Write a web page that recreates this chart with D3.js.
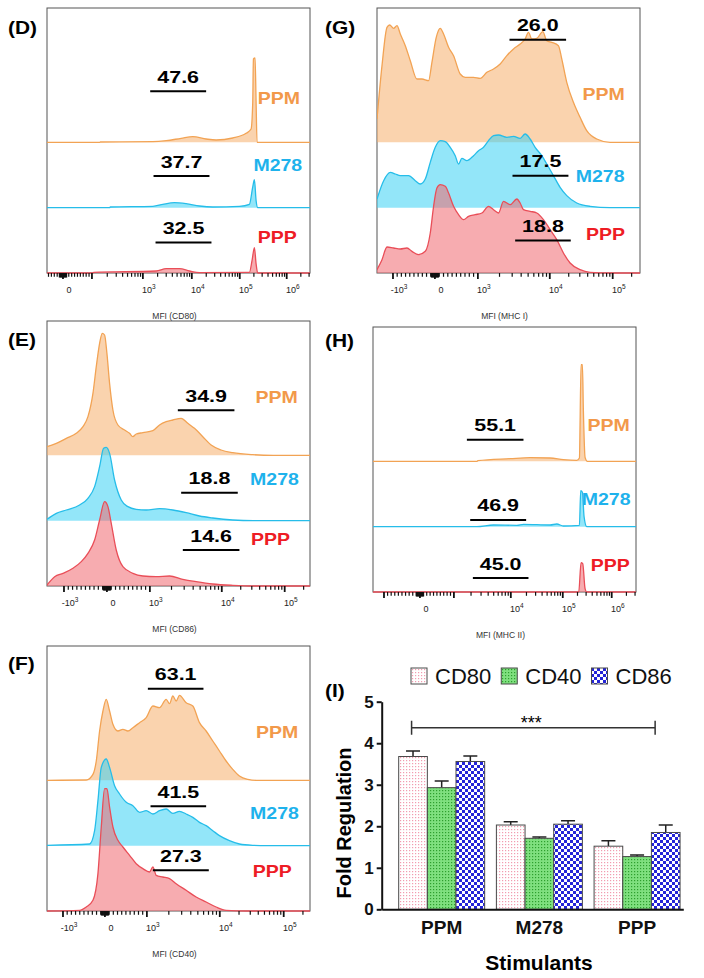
<!DOCTYPE html>
<html>
<head>
<meta charset="utf-8">
<script src="https://cdn.jsdelivr.net/npm/d3@7"></script>
<style>
  body { margin: 0; background: #fff; }
  svg { display: block; font-family: "Liberation Sans", Arial, sans-serif; }
</style>
</head>
<body>
<div class="canvas"></div>
<script>
// ---- histogram data: [display channel (0-790), event count] per sample ----
const samples = ['PPM', 'M278', 'PPP'];

const cd80PPM = [[0,0],[158,0],[160,1],[318,2],[358,5],[403,12],[438,17],[478,10],[508,7],[558,13],[598,27],[613,40],[618,120],[620,250],[625,253],[628,125],[631,0],[790,0]];
const cd80M278 = [[0,0],[188,0],[190,2],[318,4],[348,10],[383,15],[418,12],[458,5],[498,2],[578,4],[608,10],[618,62],[623,84],[628,22],[633,0],[790,0]];
const cd80PPP = [[0,0],[138,0],[140,2],[328,6],[358,13],[398,13],[428,6],[458,1],[608,2],[616,38],[623,76],[628,28],[633,0],[790,0]];

const mhc1PPM = [[0,70],[15,230],[30,345],[38,352],[50,342],[60,350],[70,325],[85,290],[100,245],[120,190],[135,190],[155,185],[165,240],[178,315],[190,342],[200,325],[215,285],[230,260],[250,205],[265,195],[290,195],[310,192],[330,210],[350,220],[370,235],[390,260],[410,280],[430,295],[445,310],[455,330],[465,310],[480,312],[498,332],[510,305],[525,300],[545,290],[555,250],[570,180],[590,120],[610,75],[630,35],[660,10],[700,0],[790,0]];
const mhc1M278 = [[0,26],[20,81],[40,106],[55,101],[70,96],[95,96],[115,81],[130,71],[145,86],[160,136],[175,181],[190,201],[205,198],[220,181],[235,156],[245,131],[255,148],[270,141],[290,156],[305,171],[320,181],[335,201],[350,216],[365,218],[390,211],[410,214],[430,208],[445,221],[460,206],[475,181],[495,156],[510,131],[530,96],[550,61],[570,36],[600,14],[640,4],[700,0],[790,0]];
const mhc1PPP = [[0,10],[15,40],[30,78],[50,75],[70,72],[90,75],[105,65],[125,55],[145,65],[160,120],[170,200],[180,255],[190,265],[205,260],[215,240],[230,200],[245,175],[260,160],[275,170],[295,175],[315,180],[335,200],[350,190],[365,180],[380,215],[400,205],[420,222],[430,210],[440,190],[460,185],[480,180],[500,160],[520,130],[540,100],[560,60],[580,30],[610,10],[640,2],[700,0],[790,0]];

const cd86PPM = [[0,26],[28,36],[58,51],[88,66],[108,86],[123,116],[138,186],[148,266],[158,336],[166,366],[173,361],[180,306],[188,216],[198,136],[213,91],[233,76],[248,66],[258,56],[268,64],[288,68],[318,74],[338,91],[358,101],[378,106],[403,111],[423,96],[443,81],[468,56],[493,31],[523,16],[558,8],[618,2],[680,0],[790,0]];
const cd86M278 = [[0,4],[28,22],[58,32],[98,47],[123,67],[143,102],[158,162],[170,217],[178,220],[188,202],[203,122],[223,62],[243,42],[268,34],[298,32],[338,36],[378,32],[418,24],[458,14],[498,8],[558,2],[620,0],[790,0]];
const cd86PPP = [[0,3],[23,28],[48,38],[78,53],[103,73],[123,98],[143,138],[158,198],[173,253],[183,238],[193,188],[208,108],[228,58],[258,38],[288,30],[328,28],[368,30],[408,20],[448,13],[498,6],[558,2],[620,0],[790,0]];

const mhc2PPM = [[0,0],[312,0],[315,2],[412,8],[472,11],[532,10],[572,5],[612,3],[620,10],[625,290],[629,290],[632,150],[637,12],[644,0],[790,0]];
const mhc2M278 = [[0,0],[312,0],[362,5],[432,4],[452,7],[532,5],[552,8],[572,2],[620,4],[624,108],[629,103],[634,30],[642,0],[790,0]];
const mhc2PPP = [[0,0],[618,0],[625,88],[630,85],[637,10],[642,0],[790,0]];

const cd40PPM = [[0,0],[118,1],[138,18],[148,58],[158,148],[168,208],[178,243],[188,208],[198,168],[213,148],[228,153],[243,148],[258,158],[278,173],[298,188],[318,223],[338,218],[358,243],[368,230],[378,253],[388,238],[398,255],[418,233],[438,223],[458,173],[478,148],[498,118],[518,88],[538,58],[558,33],[578,13],[603,3],[628,0],[790,0]];
const cd40M278 = [[0,1],[128,5],[143,45],[153,135],[163,235],[178,260],[188,235],[203,180],[218,155],[238,130],[258,120],[278,100],[298,105],[318,95],[338,105],[358,110],[378,97],[398,103],[418,95],[438,85],[458,70],[478,60],[498,45],[518,30],[548,15],[578,5],[618,1],[660,0],[790,0]];
const cd40PPP = [[0,0],[98,2],[118,12],[138,32],[153,112],[163,252],[173,367],[180,367],[188,312],[198,252],[213,212],[228,192],[248,167],[268,142],[288,127],[308,117],[318,132],[328,107],[348,102],[368,97],[388,82],[418,62],[448,42],[478,27],[508,12],[538,2],[600,0],[790,0]];

// gates (channel ranges) and % positive per sample
const cd80Gates = [[310,478],[320,488],[326,494]];
const cd80Pct = [47.6, 37.7, 32.5];
const mhc1Gates = [[398,568],[407,575],[415,582]];
const mhc1Pct = [26.0, 17.5, 18.8];
const cd86Gates = [[393,563],[403,573],[408,578]];
const cd86Pct = [34.9, 18.8, 14.6];
const mhc2Gates = [[282,452],[292,460],[300,467]];
const mhc2Pct = [55.1, 46.9, 45.0];
const cd40Gates = [[303,470],[311,478],[318,486]];
const cd40Pct = [63.1, 41.5, 27.3];

// biexponential axis: decade values and the display channel where each sits
const cd80TickVals = [0, 1e2, 1e3, 1e4, 1e5, 1e6];
const cd80TickCh = [48, 135, 288, 435, 579, 720];
const cd80Labeled = [0, 1e3, 1e4, 1e5, 1e6];
const mhc1TickVals = [-1e3, 0, 1e3, 1e4, 1e5];
const mhc1TickCh = [48, 174, 303, 519, 708];
const mhc1Labeled = [-1e3, 0, 1e3, 1e4, 1e5];
const cd86TickVals = [-1e3, 0, 1e3, 1e4, 1e5];
const cd86TickCh = [51, 180, 309, 525, 714];
const cd86Labeled = [-1e3, 0, 1e3, 1e4, 1e5];
const mhc2TickVals = [-1e3, 0, 1e3, 1e4, 1e5, 1e6];
const mhc2TickCh = [33, 141, 243, 414, 570, 717];
const mhc2Labeled = [0, 1e4, 1e5, 1e6];
const cd40TickVals = [-1e3, 0, 1e3, 1e4, 1e5];
const cd40TickCh = [48, 174, 300, 519, 711];
const cd40Labeled = [-1e3, 0, 1e3, 1e4, 1e5];

// ---- bar chart data ----
const groups = ['PPM', 'M278', 'PPP'];
const markers = ['CD80', 'CD40', 'CD86'];
const cd80Fold = [3.68, 2.03, 1.52];
const cd80Sem = [0.13, 0.08, 0.13];
const cd40Fold = [2.93, 1.71, 1.27];
const cd40Sem = [0.16, 0.03, 0.04];
const cd86Fold = [3.56, 2.05, 1.85];
const cd86Sem = [0.13, 0.08, 0.18];

// ---- styles ----
const labelColor = { PPM: '#f2994a', M278: '#1eb2ec', PPP: '#ee1c25' };
const strokeColor = { PPM: '#f2a354', M278: '#26bde9', PPP: '#e94e58' };
const fillColor = { PPM: '#f5ae6c', M278: '#3ad2f4', PPP: '#f06870' };

const svg = d3.select('.canvas')
  .append('svg')
  .attr('width', 704)
  .attr('height', 978);

const defs = svg.append('defs');

// panel layout (pixels)
const panels = [
  { key: 'D', title: 'MFI (CD80)', left: 47, bottom: 273, hist: [cd80PPM, cd80M278, cd80PPP], gates: cd80Gates, pct: cd80Pct,
    tv: cd80TickVals, tc: cd80TickCh, lab: cd80Labeled, gateY: [51, 31.6, 30.4], labX: [633, 620, 633], labY: [38, 37, 30] },
  { key: 'G', title: 'MFI (MHC I)', left: 377, bottom: 273, hist: [mhc1PPM, mhc1M278, mhc1PPP], gates: mhc1Gates, pct: mhc1Pct,
    tv: mhc1TickVals, tc: mhc1TickCh, lab: mhc1Labeled, gateY: [102.6, 32, 32.6], labX: [617, 597, 628], labY: [42.6, 26, 32.6] },
  { key: 'E', title: 'MFI (CD86)', left: 47, bottom: 586, hist: [cd86PPM, cd86M278, cd86PPP], gates: cd86Gates, pct: cd86Pct,
    tv: cd86TickVals, tc: cd86TickCh, lab: cd86Labeled, gateY: [45, 28, 36], labX: [626, 610, 613], labY: [52, 35.7, 41] },
  { key: 'H', title: 'MFI (MHC II)', left: 373, bottom: 592, hist: [mhc2PPM, mhc2M278, mhc2PPP], gates: mhc2Gates, pct: mhc2Pct,
    tv: mhc2TickVals, tc: mhc2TickCh, lab: mhc2Labeled, gateY: [21.7, 6.7, 14], labX: [644, 627, 654], labY: [30, 21.7, 21] },
  { key: 'F', title: 'MFI (CD40)', left: 47, bottom: 911, hist: [cd40PPM, cd40M278, cd40PPP], gates: cd40Gates, pct: cd40Pct,
    tv: cd40TickVals, tc: cd40TickCh, lab: cd40Labeled, gateY: [91.6, 39.3, 40.7], labX: [628, 610, 618], labY: [42.6, 26.7, 34] },
];

const panelLetters = [
  { t: '(D)', x: 8, y: 34 }, { t: '(G)', x: 325, y: 34 },
  { t: '(E)', x: 8, y: 346 }, { t: '(H)', x: 325, y: 347 },
  { t: '(F)', x: 8, y: 670 }, { t: '(I)', x: 325, y: 697 },
];

svg.selectAll('.letter')
  .data(panelLetters)
  .enter().append('text')
  .attr('transform', d => `translate(${d.x},${d.y}) scale(1.1,1)`)
  .attr('font-size', 19).attr('font-weight', 'bold')
  .text(d => d.t);

// minor tick positions for a biexponential axis
function axisTicks(vals, chs, maxCh) {
  const minor = [];
  for (let i = 0; i < vals.length - 1; i++) {
    const v0 = vals[i], v1 = vals[i + 1], c0 = chs[i], c1 = chs[i + 1];
    if (v0 === 0 || v1 === 0) {
      for (let m = 1; m < 10; m++) minor.push(c0 + (c1 - c0) * m / 10);
    } else {
      for (let m = 2; m < 10; m++) minor.push(c0 + Math.log10(m) * (c1 - c0));
    }
  }
  const n = vals.length;
  const w = chs[n - 1] - chs[n - 2];
  for (let m = 2; m < 10; m++) {
    const c = chs[n - 1] + Math.log10(m) * w;
    if (c < maxCh) minor.push(c);
  }
  const zi = vals.indexOf(0);
  if (zi === 0) {
    const step = (chs[1] - chs[0]) / 10;
    for (let c = chs[0] - step; c > 0; c -= step) minor.push(c);
  } else {
    const k = vals.indexOf(1e3);
    const wd = chs[k + 1] - chs[k];
    for (let m = 2; m < 10; m++) {
      const c = chs[0] - Math.log10(m) * wd;
      if (c > 0) minor.push(c);
    }
  }
  const cluster = d3.range(-4, 5).map(k => chs[zi] + k * 2.6);
  return { minor, cluster };
}

function tickLabel(sel, v) {
  if (v === 0) { sel.text('0'); return; }
  sel.append('tspan').text((v < 0 ? '-' : '') + '10');
  sel.append('tspan').attr('dy', -4).attr('font-size', 6.5).text(Math.round(Math.log10(Math.abs(v))));
}

const W = 263, H = 265;
const laneOffset = [392, 196, 0];

panels.forEach(p => {
  const g = svg.append('g');
  const x = d3.scaleLinear().domain([0, 790]).range([p.left, p.left + W]);
  const y = d3.scaleLinear().domain([0, 795]).range([p.bottom, p.bottom - H]);

  defs.append('clipPath').attr('id', 'clip' + p.key)
    .append('rect')
    .attr('x', p.left).attr('y', p.bottom - H)
    .attr('width', W).attr('height', H + 1.5);

  g.append('rect')
    .attr('x', p.left).attr('y', p.bottom - H)
    .attr('width', W).attr('height', H)
    .attr('fill', 'none').attr('stroke', '#555').attr('stroke-width', 1);

  samples.forEach((s, i) => {
    const off = laneOffset[i];
    const area = d3.area()
      .x(d => x(d[0])).y0(y(off)).y1(d => y(off + d[1]))
      .curve(d3.curveMonotoneX);
    const line = d3.line()
      .x(d => x(d[0])).y(d => y(off + d[1]))
      .curve(d3.curveMonotoneX);
    const hg = g.append('g').attr('clip-path', `url(#clip${p.key})`);
    hg.append('path').datum(p.hist[i])
      .attr('d', area).attr('fill', fillColor[s]).attr('fill-opacity', 0.55);
    hg.append('path').datum(p.hist[i])
      .attr('d', line).attr('fill', 'none')
      .attr('stroke', strokeColor[s]).attr('stroke-width', 1.3);
  });

  // gates, percentages and sample names
  samples.forEach((s, i) => {
    const base = y(laneOffset[i]);
    const gy = base - p.gateY[i];
    const [g0, g1] = p.gates[i];
    g.append('line')
      .attr('x1', x(g0)).attr('x2', x(g1))
      .attr('y1', gy).attr('y2', gy)
      .attr('stroke', '#000').attr('stroke-width', 2);
    g.append('text')
      .attr('transform', `translate(${x((g0 + g1) / 2)},${gy - 8.5}) scale(1.3,1)`)
      .attr('text-anchor', 'middle')
      .attr('font-size', 16.5).attr('font-weight', 'bold')
      .text(p.pct[i].toFixed(1));
    g.append('text')
      .attr('transform', `translate(${x(p.labX[i])},${base - p.labY[i]}) scale(1.22,1)`)
      .attr('font-size', 16).attr('font-weight', 'bold')
      .attr('fill', labelColor[s])
      .text(s);
  });

  // axis
  const t = axisTicks(p.tv, p.tc, 790);
  const tickG = g.append('g').attr('stroke', '#111');
  tickG.selectAll('.maj').data(p.tc).enter().append('line')
    .attr('x1', d => x(d)).attr('x2', d => x(d))
    .attr('y1', p.bottom).attr('y2', p.bottom + 6).attr('stroke-width', 1.8);
  tickG.selectAll('.min').data(t.minor).enter().append('line')
    .attr('x1', d => x(d)).attr('x2', d => x(d))
    .attr('y1', p.bottom).attr('y2', p.bottom + 3.8).attr('stroke-width', 1.2);
  tickG.selectAll('.clu').data(t.cluster).enter().append('line')
    .attr('x1', d => x(d)).attr('x2', d => x(d))
    .attr('y1', p.bottom).attr('y2', p.bottom + 4.5).attr('stroke-width', 1.5);

  p.lab.forEach(v => {
    const ch = p.tc[p.tv.indexOf(v)];
    const tx = g.append('text')
      .attr('x', x(ch) + 6).attr('y', p.bottom + 19.5)
      .attr('text-anchor', 'middle')
      .attr('font-size', 9).attr('fill', '#222');
    tickLabel(tx, v);
  });

  g.append('text')
    .attr('x', p.left + W / 2 - 4).attr('y', p.bottom + 46)
    .attr('text-anchor', 'middle')
    .attr('font-size', 8.5).attr('fill', '#333')
    .text(p.title);
});

// ---- (I) bar chart ----
const pat = (id, w, h, bg) => {
  const pt = defs.append('pattern').attr('id', id)
    .attr('patternUnits', 'userSpaceOnUse').attr('width', w).attr('height', h);
  pt.append('rect').attr('width', w).attr('height', h).attr('fill', bg);
  return pt;
};
pat('pCD80', 3, 3, '#fff').append('rect')
  .attr('x', 1).attr('y', 1).attr('width', 1.2).attr('height', 1.2).attr('fill', '#f29cb0');
pat('pCD40', 3, 3, '#7fe07f').append('rect')
  .attr('x', 1).attr('y', 1).attr('width', 1.2).attr('height', 1.2).attr('fill', '#2e9f2e');
const p86 = pat('pCD86', 6, 6, '#fff');
p86.append('rect').attr('width', 3).attr('height', 3).attr('fill', '#2424d8');
p86.append('rect').attr('x', 3).attr('y', 3).attr('width', 3).attr('height', 3).attr('fill', '#2424d8');
const fills = { CD80: 'url(#pCD80)', CD40: 'url(#pCD40)', CD86: 'url(#pCD86)' };

const means = { CD80: cd80Fold, CD40: cd40Fold, CD86: cd86Fold };
const sems = { CD80: cd80Sem, CD40: cd40Sem, CD86: cd86Sem };
const rows = groups.flatMap((gr, i) => markers.map(m => ({ group: gr, marker: m, mean: means[m][i], sem: sems[m][i] })));

const x0 = d3.scaleBand().domain(groups).range([381.7, 683.3])
  .paddingInner(0.12).paddingOuter(0.1035).align(0.84);
const x1 = d3.scaleBand().domain(markers).range([0, x0.bandwidth()]);
const yb = d3.scaleLinear().domain([0, 5]).range([909.3, 701.7]);

const bars = svg.append('g');
// error bars (upper only)
bars.selectAll('.err').data(rows).enter().append('path')
  .attr('d', d => {
    const cx = x0(d.group) + x1(d.marker) + x1.bandwidth() / 2;
    const yt = yb(d.mean + d.sem);
    return `M${cx},${yb(d.mean)}V${yt}M${cx - 7},${yt}H${cx + 7}`;
  })
  .attr('fill', 'none').attr('stroke', '#222').attr('stroke-width', 1.5);
bars.selectAll('.bar').data(rows).enter().append('rect')
  .attr('x', d => x0(d.group) + x1(d.marker))
  .attr('y', d => yb(d.mean))
  .attr('width', x1.bandwidth())
  .attr('height', d => yb(0) - yb(d.mean))
  .attr('fill', d => fills[d.marker])
  .attr('stroke', '#4a4a4a').attr('stroke-width', 1);

const yAxis = svg.append('g')
  .attr('transform', `translate(${381.7},0)`)
  .call(d3.axisLeft(yb).ticks(5).tickSize(5).tickSizeOuter(0).tickPadding(3).tickFormat(d3.format('d')));
yAxis.selectAll('text').attr('font-size', 17).attr('font-weight', 'bold').attr('fill', '#111')
  .style('font-family', '"Liberation Sans", Arial, sans-serif');
yAxis.selectAll('line, path').attr('stroke', '#111').attr('stroke-width', 2);

const xAxis = svg.append('g')
  .attr('transform', `translate(0,${909.3})`)
  .call(d3.axisBottom(x0).tickSize(0).tickPadding(11));
xAxis.selectAll('text').attr('font-size', 19).attr('font-weight', 'bold').attr('fill', '#111')
  .style('font-family', '"Liberation Sans", Arial, sans-serif');
xAxis.select('path').attr('stroke', '#111').attr('stroke-width', 2);

svg.append('text')
  .attr('transform', 'translate(351,823) rotate(-90)')
  .attr('text-anchor', 'middle')
  .attr('font-size', 20).attr('font-weight', 'bold')
  .text('Fold Regulation');

svg.append('text')
  .attr('x', 539).attr('y', 970)
  .attr('text-anchor', 'middle')
  .attr('font-size', 21).attr('font-weight', 'bold')
  .text('Stimulants');

// significance bracket PPM vs PPP
const sigY = yb(4.37);
const sx0 = x0('PPM') + x0.bandwidth() * 0.15;
const sx1 = x0('PPP') + x0.bandwidth() * 0.71;
svg.append('path')
  .attr('d', `M${sx0},${sigY - 7}V${sigY + 7}M${sx0},${sigY}H${sx1}M${sx1},${sigY - 7}V${sigY + 7}`)
  .attr('fill', 'none').attr('stroke', '#333').attr('stroke-width', 1.5);
svg.append('text')
  .attr('x', (sx0 + sx1) / 2 - 2).attr('y', sigY + 1)
  .attr('text-anchor', 'middle').attr('font-size', 18)
  .text('***');

// legend
const leg = svg.append('g').attr('transform', 'translate(411,668)');
let lx = 0;
markers.forEach(m => {
  leg.append('rect').attr('x', lx).attr('y', 0).attr('width', 16).attr('height', 16)
    .attr('fill', fills[m]).attr('stroke', '#4a4a4a').attr('stroke-width', 1);
  const t = leg.append('text').attr('x', lx + 24).attr('y', 15.5)
    .attr('font-size', 22).attr('fill', '#111').text(m);
  lx += 24 + t.node().getComputedTextLength() + 10;
});
</script>
</body>
</html>
